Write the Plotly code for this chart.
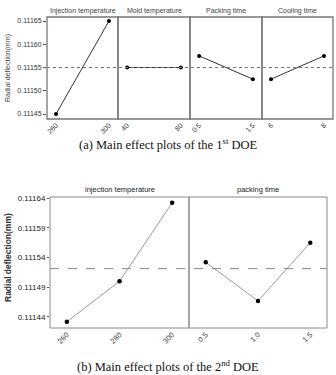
import numpy as np
import plotly.graph_objects as go

W, H = 336, 375

# ---------- data: 1st DOE ----------
doe1_factors = ["Injection temperature", "Mold temperature", "Packing time", "Cooling time"]
doe1_levels = [[260, 300], [40, 80], [0.5, 1.5], [6, 8]]
doe1_ticklabels = [["260", "300"], ["40", "80"], ["0.5", "1.5"], ["6", "8"]]
doe1_values = [[0.11145, 0.11165], [0.11155, 0.11155], [0.111575, 0.111525], [0.111525, 0.111575]]
doe1_yticks = [0.11145, 0.11150, 0.11155, 0.11160, 0.11165]

# ---------- data: 2nd DOE ----------
doe2_factors = ["injection temperature", "packing time"]
doe2_levels = [[260, 280, 300], [0.5, 1.0, 1.5]]
doe2_ticklabels = [["260", "280", "300"], ["0.5", "1.0", "1.5"]]
doe2_values = [[0.111432, 0.111500, 0.111632], [0.111532, 0.111467, 0.111565]]
doe2_yticks = [0.11144, 0.11149, 0.11154, 0.11159, 0.11164]

def px(x):
    return x / W

def py(y):
    return 1 - y / H

fig = go.Figure()
layout = {}

top_edges = [47, 118, 190, 262, 333]
top_y = (17, 119)
bot_edges = [50, 189, 327]
bot_y = (197, 328)

pad1 = 0.17
pad2 = 0.16

SANS = "Liberation Sans, Arial"
SERIF = "Liberation Serif, Times New Roman"
axis_font = dict(family=SANS, size=7, color="#333")
shapes = []
annotations = []

def ann(text, x, y, size, color, family=SANS, angle=0):
    annotations.append(dict(text=text, x=x, y=y, xref="paper", yref="paper",
                            xanchor="center", yanchor="middle", showarrow=False,
                            textangle=angle, font=dict(family=family, size=size, color=color)))

# top chart
for i in range(4):
    ax = i + 1
    xname = "xaxis" if ax == 1 else f"xaxis{ax}"
    xref = "x" if ax == 1 else f"x{ax}"
    lv = doe1_levels[i]
    span = lv[-1] - lv[0]
    layout[xname] = dict(
        domain=[px(top_edges[i]), px(top_edges[i + 1])],
        range=[lv[0] - pad1 * span, lv[-1] + pad1 * span],
        anchor="y", tickvals=lv, ticktext=doe1_ticklabels[i], tickangle=-45,
        tickfont=axis_font, showgrid=False, zeroline=False, showline=False,
        ticks="", automargin=False,
    )
    fig.add_trace(go.Scatter(
        x=lv, y=doe1_values[i], xaxis=xref, yaxis="y",
        mode="lines+markers", line=dict(color="#333", width=1),
        marker=dict(color="#000", size=4), showlegend=False, hoverinfo="skip"))
    shapes.append(dict(type="rect", xref=xref + " domain", yref="y domain",
                       x0=0, x1=1, y0=0, y1=1,
                       line=dict(color="#777", width=1.3), layer="above"))
    ann(doe1_factors[i], (px(top_edges[i]) + px(top_edges[i + 1])) / 2, py(11), 7, "#444")

layout["yaxis"] = dict(
    domain=[py(top_y[1]), py(top_y[0])], range=[0.1114393, 0.1116586], anchor="x",
    tickvals=doe1_yticks, ticktext=[f"{v:.5f}" for v in doe1_yticks],
    tickfont=axis_font, ticks="outside", ticklen=3, tickcolor="#555",
    showgrid=False, zeroline=False, showline=False, automargin=False,
)
mean1 = float(np.mean(doe1_values[0]))
shapes.append(dict(type="line", xref="paper", yref="y", x0=px(top_edges[0]), x1=px(top_edges[-1]),
                   y0=mean1, y1=mean1, line=dict(color="#777", width=1, dash="dot")))

# bottom chart
for i in range(2):
    ax = i + 5
    lv = doe2_levels[i]
    span = lv[-1] - lv[0]
    layout[f"xaxis{ax}"] = dict(
        domain=[px(bot_edges[i]), px(bot_edges[i + 1])],
        range=[lv[0] - pad2 * span, lv[-1] + pad2 * span],
        anchor="y2", tickvals=lv, ticktext=doe2_ticklabels[i], tickangle=-45,
        tickfont=dict(family=SANS, size=7.5, color="#444"),
        showgrid=False, zeroline=False, showline=False, ticks="", automargin=False,
    )
    fig.add_trace(go.Scatter(
        x=lv, y=doe2_values[i], xaxis=f"x{ax}", yaxis="y2",
        mode="lines+markers", line=dict(color="#999", width=1),
        marker=dict(color="#000", size=4.5), showlegend=False, hoverinfo="skip"))
    shapes.append(dict(type="rect", xref=f"x{ax} domain", yref="y2 domain",
                       x0=0, x1=1, y0=0, y1=1, line=dict(color="#888", width=1), layer="above"))
    ann(doe2_factors[i], (px(bot_edges[i]) + px(bot_edges[i + 1])) / 2, py(189), 7.5, "#222")

layout["yaxis2"] = dict(
    domain=[py(bot_y[1]), py(bot_y[0])], range=[0.1114215, 0.1116417], anchor="x5",
    tickvals=doe2_yticks, ticktext=[f"{v:.5f}" for v in doe2_yticks],
    tickfont=dict(family=SANS, size=8, color="#222"),
    ticks="outside", ticklen=2, tickcolor="#555",
    showgrid=False, zeroline=False, showline=False, automargin=False,
)
mean2 = float(np.mean(doe2_values[0] + doe2_values[1]))
shapes.append(dict(type="line", xref="paper", yref="y2", x0=px(bot_edges[0]), x1=px(bot_edges[-1]),
                   y0=mean2, y1=mean2, line=dict(color="#888", width=1, dash="dash")))

# y titles
ann("Radial deflection(mm)", px(8), py(68), 7, "#444", angle=-90)
ann("<b>Radial deflection(mm)</b>", px(8), py(258), 8.5, "#333", angle=-90)

# captions
ann("(a) Main effect plots of the 1<sup>st</sup> DOE", px(168), py(144), 12.5, "#111", family=SERIF)
ann("(b) Main effect plots of the 2<sup>nd</sup> DOE", px(168), py(366), 12.5, "#111", family=SERIF)

fig.update_layout(
    width=W, height=H, margin=dict(l=0, r=0, t=0, b=0, autoexpand=False),
    paper_bgcolor="white", plot_bgcolor="white",
    shapes=shapes, annotations=annotations, **layout,
)

fig.write_html("out.html")
